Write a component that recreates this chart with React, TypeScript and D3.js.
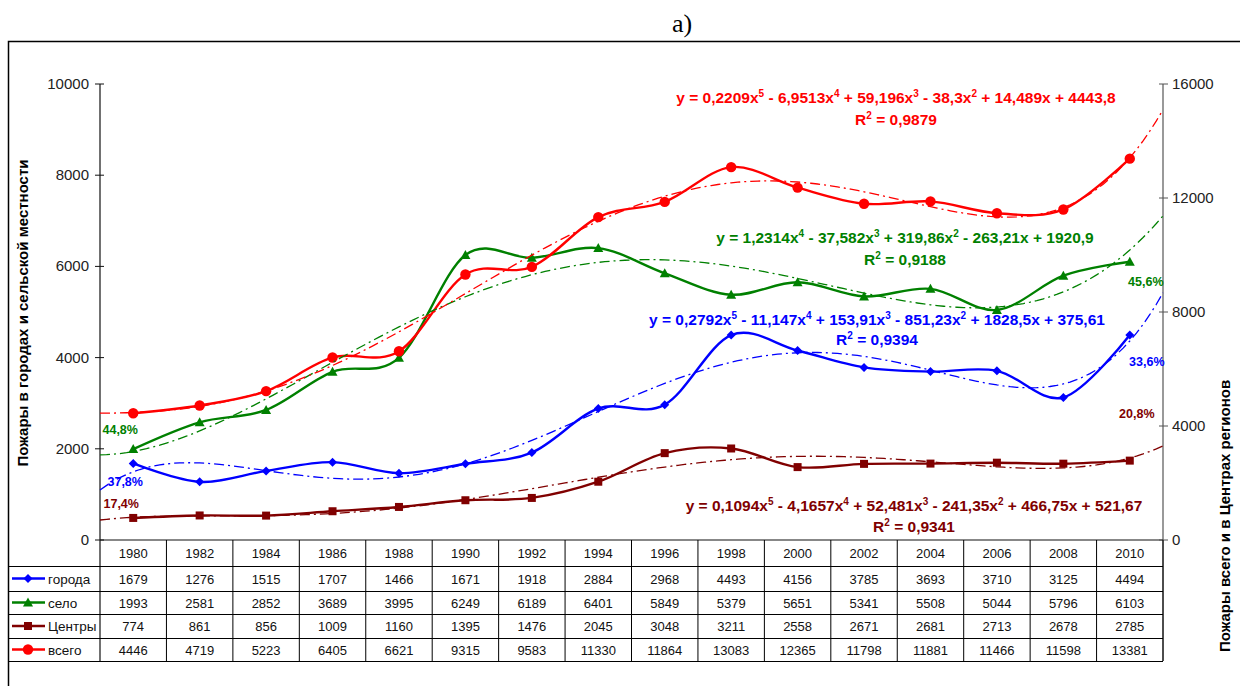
import React from 'react';
import * as d3 from 'd3';

const years = ['1980', '1982', '1984', '1986', '1988', '1990', '1992', '1994', '1996', '1998', '2000', '2002', '2004', '2006', '2008', '2010'];

const goroda = [1679, 1276, 1515, 1707, 1466, 1671, 1918, 2884, 2968, 4493, 4156, 3785, 3693, 3710, 3125, 4494];
const selo = [1993, 2581, 2852, 3689, 3995, 6249, 6189, 6401, 5849, 5379, 5651, 5341, 5508, 5044, 5796, 6103];
const centry = [774, 861, 856, 1009, 1160, 1395, 1476, 2045, 3048, 3211, 2558, 2671, 2681, 2713, 2678, 2785];
const vsego = [4446, 4719, 5223, 6405, 6621, 9315, 9583, 11330, 11864, 13083, 12365, 11798, 11881, 11466, 11598, 13381];

// polynomial trend coefficients as printed on the chart, highest power first
const trendGoroda = [0.2792, -11.147, 153.91, -851.23, 1828.5, 375.61];
const trendSelo = [1.2314, -37.582, 319.86, -263.21, 1920.9];
const trendCentry = [0.1094, -4.1657, 52.481, -241.35, 466.75, 521.67];
const trendVsego = [0.2209, -6.9513, 59.196, -38.3, 14.489, 4443.8];

const leftTicks = [0, 2000, 4000, 6000, 8000, 10000];
const rightTicks = [0, 4000, 8000, 12000, 16000];

const FONT = '"Liberation Sans", Arial, sans-serif';

type Series = {
  name: string;
  values: number[];
  color: string;
  axis: 'left' | 'right';
  marker: 'diamond' | 'triangle' | 'square' | 'circle';
  trend: number[];
};

const series: Series[] = [
  { name: 'города', values: goroda, color: '#0000ff', axis: 'left', marker: 'diamond', trend: trendGoroda },
  { name: 'село', values: selo, color: '#008000', axis: 'left', marker: 'triangle', trend: trendSelo },
  { name: 'Центры', values: centry, color: '#800000', axis: 'right', marker: 'square', trend: trendCentry },
  { name: 'всего', values: vsego, color: '#ff0000', axis: 'right', marker: 'circle', trend: trendVsego },
];

const polyval = (c: number[], x: number) => c.reduce((acc, k) => acc * x + k, 0);

function Marker({ type, cx, cy, color }: { type: string; cx: number; cy: number; color: string }) {
  if (type === 'diamond') {
    const s = 4.5;
    return <path d={`M${cx},${cy - s}L${cx + s},${cy}L${cx},${cy + s}L${cx - s},${cy}Z`} fill={color} />;
  }
  if (type === 'triangle') {
    const s = 5;
    return <path d={`M${cx},${cy - s}L${cx + s},${cy + s * 0.8}L${cx - s},${cy + s * 0.8}Z`} fill={color} />;
  }
  if (type === 'square') {
    return <rect x={cx - 4} y={cy - 4} width={8} height={8} fill={color} />;
  }
  return <circle cx={cx} cy={cy} r={5.2} fill={color} />;
}

const EQ_SIZE = 15.5;
const SUP_SIZE = 10;
const SUP_DY = 6.5;

// equation text with superscripts
function Equation({ x, y, color, coeffs }: { x: number; y: number; color: string; coeffs: string[] }) {
  const n = coeffs.length - 1;
  const parts: React.ReactNode[] = [];
  let text = 'y = ';
  let pendingDy = 0;
  let k = 0;
  const flush = () => {
    if (!text) return;
    parts.push(
      <tspan key={k++} dy={pendingDy || undefined}>
        {text}
      </tspan>
    );
    pendingDy = 0;
    text = '';
  };
  coeffs.forEach((c, i) => {
    const p = n - i;
    const neg = c.startsWith('-');
    const abs = neg ? c.slice(1) : c;
    const sign = i === 0 ? '' : neg ? ' - ' : ' + ';
    if (p >= 2) {
      text += sign + abs + 'x';
      flush();
      parts.push(
        <tspan key={k++} dy={-SUP_DY} fontSize={SUP_SIZE}>
          {String(p)}
        </tspan>
      );
      pendingDy = SUP_DY;
    } else if (p === 1) {
      text += sign + abs + 'x';
    } else {
      text += sign + abs;
    }
  });
  flush();
  return (
    <text x={x} y={y} fill={color} fontFamily={FONT} fontWeight="bold" fontSize={EQ_SIZE} textAnchor="middle">
      {parts}
    </text>
  );
}

function R2({ x, y, color, value }: { x: number; y: number; color: string; value: string }) {
  return (
    <text x={x} y={y} fill={color} fontFamily={FONT} fontWeight="bold" fontSize={EQ_SIZE} textAnchor="middle">
      <tspan>R</tspan>
      <tspan dy={-SUP_DY} fontSize={SUP_SIZE}>2</tspan>
      <tspan dy={SUP_DY}>{' = ' + value}</tspan>
    </text>
  );
}

export default function App() {
  const W = 1240;
  const H = 686;
  const plotL = 100;
  const plotR = 1163;
  const plotT = 84;
  const plotB = 540;

  const x = d3.scaleLinear().domain([0.5, 16.5]).range([plotL, plotR]);
  const yL = d3.scaleLinear().domain([0, 10000]).range([plotB, plotT]);
  const yR = d3.scaleLinear().domain([0, 16000]).range([plotB, plotT]);

  const rowTops = [566, 591, 614, 638, 661];
  const colW = (plotR - plotL) / years.length;

  const trendXs = d3.range(0.5, 16.5001, 0.1);

  return (
    <svg width={W} height={H} style={{ position: 'absolute', left: 0, top: 0, background: '#fff' }}>
      <text x={682} y={32} fontFamily='"Liberation Serif", "Times New Roman", serif' fontSize={26} textAnchor="middle">
        а)
      </text>
      {/* frame */}
      <path d={`M8.5,${H}V41.5H${W}`} fill="none" stroke="#000" strokeWidth={1.5} />

      {/* axes */}
      <line x1={plotL} x2={plotL} y1={plotT} y2={rowTops[4]} stroke="#111" strokeWidth={1.2} />
      <line x1={plotR} x2={plotR} y1={plotT} y2={rowTops[4]} stroke="#555" strokeWidth={1.2} />
      <line x1={plotL} x2={plotR} y1={plotB} y2={plotB} stroke="#111" strokeWidth={1.2} />
      {leftTicks.map((t) => (
        <g key={'l' + t}>
          <line x1={plotL - 5} x2={plotL + 4} y1={yL(t)} y2={yL(t)} stroke="#111" />
          <text x={plotL - 11} y={yL(t) + 5} textAnchor="end" fontFamily={FONT} fontSize={15} fill="#222">
            {t}
          </text>
        </g>
      ))}
      {rightTicks.map((t) => (
        <g key={'r' + t}>
          <line x1={plotR - 4} x2={plotR + 5} y1={yR(t)} y2={yR(t)} stroke="#555" />
          <text x={plotR + 9} y={yR(t) + 5} textAnchor="start" fontFamily={FONT} fontSize={15} fill="#222">
            {t}
          </text>
        </g>
      ))}
      <text
        transform={`translate(28,313) rotate(-90)`}
        textAnchor="middle"
        fontFamily={FONT}
        fontWeight="bold"
        fontSize={15}
      >
        Пожары в городах и сельской местности
      </text>
      <text
        transform={`translate(1230,516) rotate(-90)`}
        textAnchor="middle"
        fontFamily={FONT}
        fontWeight="bold"
        fontSize={15}
      >
        Пожары всего и в Центрах регионов
      </text>

      {/* series */}
      {series.map((s) => {
        const y = s.axis === 'left' ? yL : yR;
        const line = d3
          .line<number>()
          .x((_, i) => x(i + 1))
          .y((d) => y(d))
          .curve(d3.curveCatmullRom.alpha(0));
        return (
          <g key={s.name}>
            <path d={line(s.values) || ''} fill="none" stroke={s.color} strokeWidth={2.4} />
            {s.values.map((v, i) => (
              <Marker key={i} type={s.marker} cx={x(i + 1)} cy={y(v)} color={s.color} />
            ))}
          </g>
        );
      })}

      {/* trendlines */}
      {series.map((s) => {
        const y = s.axis === 'left' ? yL : yR;
        const line = d3
          .line<number>()
          .x((d) => x(d))
          .y((d) => y(polyval(s.trend, d)));
        return (
          <path
            key={'t' + s.name}
            d={line(trendXs) || ''}
            fill="none"
            stroke={s.color}
            strokeWidth={1.3}
            strokeDasharray="10,4,2,4"
          />
        );
      })}

      {/* equations */}
      <Equation x={896} y={103} color="#ff0000" coeffs={['0,2209', '-6,9513', '59,196', '-38,3', '14,489', '4443,8']} />
      <R2 x={896} y={125} color="#ff0000" value="0,9879" />
      <Equation x={905} y={243} color="#008000" coeffs={['1,2314', '-37,582', '319,86', '-263,21', '1920,9']} />
      <R2 x={905} y={265} color="#008000" value="0,9188" />
      <Equation x={877} y={325} color="#0000ff" coeffs={['0,2792', '-11,147', '153,91', '-851,23', '1828,5', '375,61']} />
      <R2 x={877} y={345} color="#0000ff" value="0,9394" />
      <Equation x={914} y={511} color="#800000" coeffs={['0,1094', '-4,1657', '52,481', '-241,35', '466,75', '521,67']} />
      <R2 x={914} y={532} color="#800000" value="0,9341" />

      {/* percentage labels */}
      <g fontFamily={FONT} fontWeight="bold" fontSize={12.5} textAnchor="middle">
        <text x={x(1) - 13} y={yL(selo[0]) - 15} fill="#008000">44,8%</text>
        <text x={x(1) - 8} y={yL(goroda[0]) + 23} fill="#0000ff">37,8%</text>
        <text x={x(1) - 12} y={yR(centry[0]) - 10} fill="#800000">17,4%</text>
        <text x={x(16) + 16} y={yL(selo[15]) + 24} fill="#008000">45,6%</text>
        <text x={x(16) + 17} y={yL(goroda[15]) + 31} fill="#0000ff">33,6%</text>
        <text x={x(16) + 7} y={yR(centry[15]) - 43} fill="#800000">20,8%</text>
      </g>

      {/* data table */}
      <g stroke="#000" strokeWidth={1}>
        {rowTops.map((r) => (
          <line key={r} x1={8} x2={plotR} y1={r + 0.5} y2={r + 0.5} />
        ))}
        {years.map((_, i) => (
          <line key={i} x1={plotL + colW * (i + 1)} x2={plotL + colW * (i + 1)} y1={plotB} y2={rowTops[4]} />
        ))}
      </g>
      <g fontFamily={FONT} fontSize={13} fill="#111" textAnchor="middle">
        {years.map((yr, i) => (
          <text key={yr} x={x(i + 1)} y={558}>
            {yr}
          </text>
        ))}
        {series.map((s, si) =>
          s.values.map((v, i) => (
            <text key={s.name + i} x={x(i + 1)} y={(rowTops[si] + rowTops[si + 1]) / 2 + 5}>
              {v}
            </text>
          ))
        )}
      </g>
      {series.map((s, si) => {
        const cy = (rowTops[si] + rowTops[si + 1]) / 2;
        return (
          <g key={'lg' + s.name}>
            <line x1={12} x2={45} y1={cy} y2={cy} stroke={s.color} strokeWidth={2.4} />
            <Marker type={s.marker} cx={28} cy={cy} color={s.color} />
            <text x={48} y={cy + 5} fontFamily={FONT} fontSize={13.5} fill="#111">
              {s.name}
            </text>
          </g>
        );
      })}
    </svg>
  );
}
